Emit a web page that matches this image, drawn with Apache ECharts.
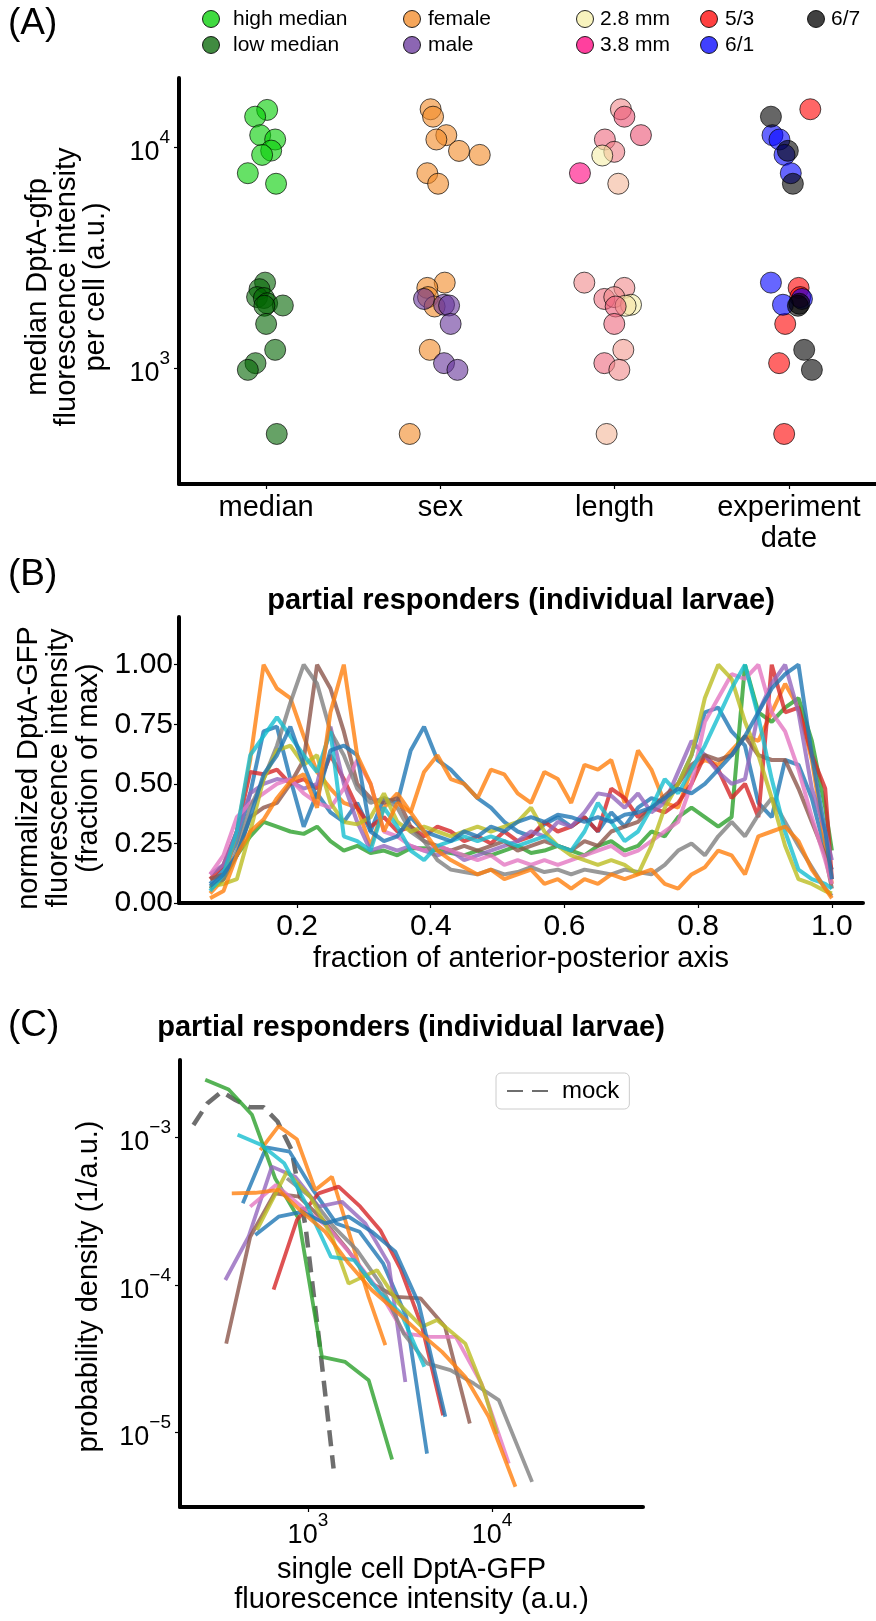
<!DOCTYPE html>
<html>
<head>
<meta charset="utf-8">
<title>DptA-GFP partial responders</title>
<script src="https://cdn.jsdelivr.net/npm/echarts@6.0.0/dist/echarts.min.js"></script>
<style>
html, body { margin: 0; padding: 0; background: #fff; }
#chart { width: 876px; height: 1621px; }
</style>
</head>
<body>
<div id="chart"></div>
<script>
// ---------- (A) median intensity per larva, grouped four ways ----------
var groupCats = ['median', 'sex', 'length', 'experiment\ndate'];

var medHighVals = [14700, 13700, 11300, 10800, 9620, 9200, 7600, 6810];
var medHighJit  = [0.006, -0.063, -0.034, 0.052, 0.029, -0.023, -0.105, 0.057];
var medLowVals  = [2430, 2270, 2090, 2070, 1960, 1915, 1910, 1580, 1206, 1050, 979, 502];
var medLowJit   = [-0.006, -0.038, -0.052, -0.013, 0.006, 0.096, -0.010, 0, 0.052, -0.061, -0.105, 0.061];

var femaleVals = [14800, 13700, 11300, 10800, 9590, 9200, 7600, 6810, 2430, 2300, 2090, 1895, 1206, 502];
var femaleJit  = [-0.056, -0.042, 0.034, -0.023, 0.107, 0.226, -0.075, -0.013, 0.025, -0.075, -0.071, -0.033, -0.061, -0.176];
var maleVals   = [2050, 1930, 1915, 1580, 1050, 979];
var maleJit    = [-0.094, 0.021, 0.050, 0.059, 0.021, 0.098];

var lenVals = [14800, 13700, 11300, 10800, 9500, 9140, 7600, 6810, 2430, 2300, 2050, 2090, 1930, 1910, 1895, 1580, 1206, 1050, 979, 502];
var lenJit  = [0.036, 0.056, 0.151, -0.056, -0.002, -0.071, -0.199, 0.021, -0.174, 0.056, -0.059, -0.002, 0.094, 0.063, 0.006, -0.002, 0.050, -0.059, 0.027, -0.046];
var lenMm   = [3.3, 3.55, 3.55, 3.45, 3.35, 2.8, 3.8, 3.05, 3.3, 3.3, 3.4, 3.3, 2.8, 2.85, 3.5, 3.45, 3.2, 3.45, 3.3, 3.05];

var d53Vals = [14800, 2300, 2090, 1580, 1050, 502];
var d53Jit  = [0.123, 0.056, 0.065, -0.021, -0.056, -0.027];
var d61Vals = [11300, 10800, 9200, 7600, 2430, 2050, 1930];
var d61Jit  = [-0.094, -0.054, -0.025, 0.011, -0.103, 0.075, -0.034];
var d67Vals = [13700, 9600, 6810, 1910, 1950, 1206, 979];
var d67Jit  = [-0.103, -0.006, 0.023, 0.052, 0.060, 0.088, 0.132];

// ---------- (B) AP profiles, one per larva ----------
var apX = [0.07,0.09,0.11,0.13,0.15,0.17,0.19,0.21,0.23,0.25,0.27,0.29,0.31,0.33,0.35,0.37,0.39,0.41,0.43,0.45,0.47,0.49,0.51,0.53,0.55,0.57,0.59,0.61,0.63,0.65,0.67,0.69,0.71,0.73,0.75,0.77,0.79,0.81,0.83,0.85,0.87,0.89,0.91,0.93,0.95,0.97,0.99,1.00];
var apBlue1  = [0.08,0.14,0.26,0.46,0.72,0.74,0.52,0.32,0.46,0.38,0.34,0.42,0.30,0.44,0.42,0.64,0.74,0.60,0.56,0.50,0.44,0.40,0.34,0.30,0.28,0.33,0.36,0.32,0.36,0.30,0.38,0.32,0.40,0.44,0.42,0.50,0.62,0.80,0.82,0.72,0.66,0.42,0.36,0.60,0.58,0.44,0.22,0.14];
var apOrange1 = [0.04,0.10,0.30,0.60,1.00,0.90,0.86,0.70,0.55,0.48,0.42,0.40,0.24,0.40,0.46,0.38,0.55,0.62,0.52,0.50,0.44,0.56,0.54,0.46,0.42,0.55,0.52,0.42,0.58,0.56,0.60,0.42,0.64,0.56,0.42,0.40,0.56,0.60,0.58,0.64,0.70,0.68,0.80,0.92,0.82,0.60,0.25,0.08];
var apGreen  = [0.06,0.10,0.20,0.28,0.34,0.32,0.30,0.29,0.32,0.26,0.22,0.24,0.21,0.22,0.20,0.23,0.23,0.22,0.21,0.20,0.22,0.20,0.22,0.24,0.21,0.22,0.24,0.22,0.20,0.24,0.26,0.22,0.24,0.30,0.28,0.36,0.40,0.36,0.32,0.36,1.00,0.80,0.76,0.82,0.86,0.68,0.40,0.22];
var apRed    = [0.10,0.16,0.30,0.55,0.54,0.56,0.50,0.52,0.48,0.62,0.52,0.40,0.32,0.36,0.30,0.32,0.28,0.32,0.30,0.26,0.28,0.25,0.30,0.26,0.28,0.34,0.30,0.32,0.36,0.30,0.48,0.44,0.36,0.40,0.38,0.42,0.50,0.62,0.56,0.44,0.50,0.36,1.00,0.80,0.82,0.62,0.48,0.10];
var apPurple = [0.12,0.16,0.30,0.46,0.50,0.52,0.51,0.48,0.50,0.74,0.50,0.34,0.22,0.24,0.22,0.24,0.22,0.20,0.22,0.18,0.20,0.22,0.24,0.26,0.30,0.28,0.34,0.32,0.38,0.46,0.45,0.40,0.46,0.38,0.42,0.55,0.68,0.62,0.55,0.50,0.52,0.80,0.92,1.00,0.80,0.48,0.30,0.18];
var apBrown  = [0.10,0.12,0.20,0.36,0.40,0.42,0.50,0.60,1.00,0.90,0.72,0.50,0.44,0.42,0.44,0.32,0.26,0.24,0.22,0.24,0.22,0.24,0.26,0.22,0.24,0.26,0.24,0.22,0.26,0.24,0.30,0.32,0.34,0.40,0.45,0.50,0.58,0.62,0.60,0.62,0.70,0.62,0.60,0.60,0.48,0.34,0.20,0.06];
var apPink   = [0.12,0.20,0.36,0.42,0.46,0.50,0.52,0.46,0.42,0.40,0.48,0.60,0.50,0.30,0.28,0.24,0.22,0.24,0.22,0.20,0.18,0.20,0.16,0.18,0.16,0.18,0.16,0.18,0.20,0.22,0.24,0.20,0.22,0.26,0.30,0.34,0.50,0.76,0.86,0.96,0.94,1.00,0.80,0.72,0.56,0.36,0.18,0.08];
var apGray   = [0.06,0.10,0.22,0.40,0.52,0.66,0.84,1.00,0.92,0.72,0.62,0.48,0.42,0.44,0.40,0.30,0.26,0.18,0.14,0.13,0.12,0.14,0.12,0.13,0.15,0.13,0.14,0.12,0.14,0.13,0.12,0.14,0.13,0.12,0.16,0.22,0.25,0.20,0.28,0.34,0.28,0.37,0.44,0.34,0.24,0.15,0.06,0.03];
var apOlive  = [0.07,0.08,0.10,0.30,0.52,0.64,0.66,0.58,0.62,0.42,0.34,0.33,0.36,0.46,0.34,0.30,0.32,0.30,0.28,0.30,0.32,0.30,0.32,0.34,0.40,0.30,0.24,0.20,0.18,0.16,0.18,0.16,0.12,0.24,0.40,0.50,0.62,0.86,1.00,0.94,0.76,0.62,0.44,0.24,0.10,0.08,0.05,0.04];
var apCyan   = [0.05,0.12,0.30,0.62,0.70,0.78,0.70,0.62,0.55,0.72,0.28,0.26,0.22,0.40,0.32,0.22,0.18,0.24,0.26,0.28,0.26,0.28,0.26,0.24,0.26,0.28,0.24,0.22,0.30,0.42,0.34,0.26,0.30,0.40,0.52,0.46,0.56,0.66,0.78,0.90,1.00,0.78,0.52,0.30,0.14,0.10,0.08,0.06];
var apBlue2  = [0.07,0.12,0.20,0.36,0.54,0.62,0.74,0.58,0.44,0.64,0.66,0.62,0.30,0.26,0.28,0.36,0.30,0.28,0.26,0.30,0.28,0.32,0.30,0.34,0.36,0.34,0.37,0.36,0.34,0.36,0.34,0.37,0.38,0.40,0.44,0.48,0.46,0.50,0.56,0.62,0.70,0.80,0.90,0.96,1.00,0.62,0.30,0.10];
var apOrange2 = [0.02,0.05,0.20,0.30,0.35,0.44,0.51,0.54,0.40,0.80,1.00,0.62,0.50,0.30,0.42,0.38,0.30,0.22,0.18,0.15,0.12,0.14,0.10,0.12,0.14,0.08,0.10,0.06,0.10,0.08,0.12,0.10,0.12,0.14,0.08,0.06,0.12,0.15,0.22,0.20,0.12,0.28,0.30,0.32,0.26,0.14,0.06,0.02];

// ---------- (C) single-cell intensity distributions ----------
var mockX = [239, 285, 340, 404, 482, 574, 684, 815, 971, 1157, 1378];
var mockY = [1.21e-3, 1.70e-3, 2.04e-3, 1.79e-3, 1.60e-3, 1.60e-3, 1.28e-3, 8.2e-4, 2.48e-4, 4.0e-5, 5.7e-6];
var cBlue1X = [443, 594, 795, 1065, 1426, 1910, 2558, 3423, 4433];
var cBlue1Y = [3.57e-4, 8.56e-4, 8.0e-4, 4.40e-4, 2.61e-4, 2.29e-4, 1.40e-4, 6.08e-5, 7.2e-6];
var cOrange1X = [551, 693, 871, 1096, 1350, 1698, 2136, 2633];
var cOrange1Y = [8.2e-4, 1.19e-3, 9.7e-4, 4.40e-4, 5.41e-4, 2.12e-4, 8.3e-5, 3.91e-5];
var cGreenX = [277, 371, 497, 664, 890, 1191, 1595, 2138, 2864];
var cGreenY = [2.45e-3, 2.11e-3, 1.42e-3, 5.27e-4, 2.82e-4, 3.26e-5, 3.01e-5, 2.26e-5, 6.56e-6];
var cRedX = [651, 871, 1143, 1468, 1925, 2471, 3177, 4166, 5420];
var cRedY = [9.3e-5, 2.75e-4, 4.17e-4, 4.63e-4, 3.39e-4, 2.35e-4, 1.29e-4, 5.2e-5, 1.31e-5];
var cPurpleX = [356, 476, 637, 853, 1143, 1530, 2050, 2744, 3381];
var cPurpleY = [1.08e-4, 2.12e-4, 6.33e-4, 5.41e-4, 3.39e-4, 3.66e-4, 2.61e-4, 1.40e-4, 2.20e-5];
var cBrownX = [360, 486, 659, 894, 1211, 1643, 2228, 3020, 4096, 5555, 7570];
var cBrownY = [4.0e-5, 2.12e-4, 4.17e-4, 3.96e-4, 2.75e-4, 1.73e-4, 1.02e-4, 8.3e-5, 8.1e-5, 5.2e-5, 1.15e-5];
var cPinkX = [486, 670, 924, 1274, 1757, 2422, 3341, 4607, 6353, 8750, 12330];
var cPinkY = [3.39e-4, 4.75e-4, 3.39e-4, 2.48e-4, 1.55e-4, 9.2e-5, 4.69e-5, 4.45e-5, 4.45e-5, 2.15e-5, 6.17e-6];
var cGrayX = [769, 1030, 1378, 1846, 2471, 3309, 4433, 5937, 7950, 10870, 16490];
var cGrayY = [5.27e-4, 3.96e-4, 2.48e-4, 1.72e-4, 1.02e-4, 4.69e-5, 2.94e-5, 2.65e-5, 2.15e-5, 1.66e-5, 4.63e-6];
var cOliveX = [528, 769, 1030, 1350, 1663, 2371, 3110, 4166, 5026, 7161, 9016, 10650];
var cOliveY = [2.35e-4, 5.85e-4, 3.96e-4, 2.12e-4, 1.02e-4, 1.26e-4, 7.5e-5, 5.2e-5, 5.78e-5, 4.0e-5, 1.94e-5, 9.8e-6];
var cCyanX = [415, 556, 743, 996, 1334, 1786, 2392, 3201, 4286];
var cCyanY = [1.04e-3, 8.9e-4, 6.67e-4, 3.39e-4, 1.55e-4, 1.47e-4, 9.2e-5, 6.4e-5, 2.79e-5];
var cBlue2X = [518, 693, 927, 1242, 1663, 2228, 2984, 3994, 5571];
var cBlue2Y = [2.18e-4, 2.90e-4, 3.13e-4, 2.61e-4, 2.90e-4, 2.29e-4, 1.68e-4, 7.5e-5, 1.28e-5];
var cOrange2X = [386, 518, 693, 927, 1242, 1663, 2228, 2984, 3994, 5349, 7161, 9591, 13390];
var cOrange2Y = [4.17e-4, 4.21e-4, 4.40e-4, 3.13e-4, 2.29e-4, 1.40e-4, 9.2e-5, 6.7e-5, 4.81e-5, 3.52e-5, 2.38e-5, 1.28e-5, 4.29e-6];

var tab = {
	blue: '#1f77b4', orange: '#ff7f0e', green: '#2ca02c', red: '#d62728', purple: '#9467bd',
	brown: '#8c564b', pink: '#e377c2', gray: '#7f7f7f', olive: '#bcbd22', cyan: '#17becf'
};
var FONT = 'Liberation Sans, Arial, Helvetica, sans-serif';

function jittered(cat, vals, jit) {
	return vals.map(function (v, i) { return [cat + jit[i], v]; });
}
function dots(data, color) {
	return {
		type: 'scatter', xAxisIndex: 0, yAxisIndex: 0,
		symbol: 'circle', symbolSize: 21, silent: true,
		itemStyle: { color: color, borderColor: 'rgba(0,0,0,0.85)', borderWidth: 1 },
		data: data
	};
}
function apLine(vals, color) {
	return {
		type: 'line', xAxisIndex: 1, yAxisIndex: 1, symbol: 'none', silent: true,
		lineStyle: { color: color, width: 4, opacity: 0.8 }, itemStyle: { color: color },
		data: apX.map(function (x, i) { return [x, vals[i]]; })
	};
}
function distLine(xs, ys, color) {
	return {
		type: 'line', xAxisIndex: 2, yAxisIndex: 2, symbol: 'none', silent: true,
		lineStyle: { color: color, width: 3.8, opacity: 0.8 }, itemStyle: { color: color },
		data: xs.map(function (x, i) { return [x, ys[i]]; })
	};
}
// 10^n style label for the log axes: a tall empty strut fixes the line box,
// the base sits at its bottom and the exponent at its top
function powLabel(v) {
	var e = Math.round(Math.log(v) / Math.LN10);
	return '{s|\u200b}{b|10}{e|' + (e < 0 ? '\u2212' + (-e) : e) + '}';
}
var powRich = {
	s: { fontSize: 10, lineHeight: 38, color: '#000' },
	b: { fontSize: 27, lineHeight: 27, verticalAlign: 'bottom', color: '#000', fontFamily: FONT },
	e: { fontSize: 19, lineHeight: 19, verticalAlign: 'top', color: '#000', fontFamily: FONT }
};
var blackLine = { show: true, onZero: false, lineStyle: { color: '#000', width: 4 } };
function ticks(vals) {
	return { show: true, length: 5, customValues: vals, lineStyle: { color: '#000', width: 1.2 } };
}

var chart = echarts.init(document.getElementById('chart'), null, { renderer: 'canvas' });

// legend of panel A (marker + label pairs, two rows)
var legendA = [
	['high median', 'rgba(0,205,0,0.75)', 211, 19, 22],
	['low median', 'rgba(0,100,0,0.75)', 211, 45, 22],
	['female', 'rgba(242,136,36,0.75)', 412, 19, 16],
	['male', 'rgba(102,51,153,0.75)', 412, 45, 16],
	['2.8 mm', 'rgba(245,239,168,0.75)', 585, 19, 15],
	['3.8 mm', 'rgba(255,0,125,0.75)', 585, 45, 15],
	['5/3', 'rgba(255,0,0,0.75)', 709, 19, 16],
	['6/1', 'rgba(0,0,255,0.75)', 709, 45, 16],
	['6/7', 'rgba(0,0,0,0.75)', 816, 19, 15]
];
var legendGraphics = [];
legendA.forEach(function (it) {
	legendGraphics.push({
		type: 'circle', shape: { cx: it[2], cy: it[3], r: 8.5 }, silent: true,
		style: { fill: it[1], stroke: 'rgba(0,0,0,0.85)', lineWidth: 1 }
	});
	legendGraphics.push({
		type: 'text', x: it[2] + it[4], y: it[3], silent: true,
		style: { text: it[0], fill: '#000', font: '21px ' + FONT, verticalAlign: 'middle' }
	});
});

var panelLabel = { fontSize: 37, fontWeight: 'normal', color: '#000' };
var titleStyle = { fontSize: 29, lineHeight: 32, fontWeight: 'bold', color: '#000' };

var option = {
	animation: false,
	backgroundColor: '#fff',
	textStyle: { fontFamily: FONT, color: '#000' },
	title: [
		{ text: '(A)', left: 8, top: 5, padding: 0, textStyle: panelLabel },
		{ text: '(B)', left: 8, top: 556, padding: 0, textStyle: panelLabel },
		{ text: '(C)', left: 8, top: 1007, padding: 0, textStyle: panelLabel },
		{ text: 'partial responders (individual larvae)', left: 521, top: 585, textAlign: 'center', padding: 0, textStyle: titleStyle },
		{ text: 'partial responders (individual larvae)', left: 411, top: 1012, textAlign: 'center', padding: 0, textStyle: titleStyle }
	],
	legend: {
		data: ['mock'], left: 496, top: 1073, selectedMode: false,
		itemWidth: 50, itemHeight: 14, padding: [6, 10, 6, 10],
		itemStyle: { opacity: 0 },
		borderColor: '#cccccc', borderWidth: 1, borderRadius: 5, backgroundColor: 'rgba(255,255,255,0.8)',
		textStyle: { fontSize: 24, color: '#000' }
	},
	grid: [
		{ left: 179, top: 78, width: 697, height: 406, containLabel: false, outerBoundsMode: 'none' },
		{ left: 179, top: 617, width: 684, height: 286, containLabel: false, outerBoundsMode: 'none' },
		{ left: 180, top: 1060, width: 463, height: 447, containLabel: false, outerBoundsMode: 'none' }
	],
	xAxis: [
		{
			type: 'value', gridIndex: 0, min: -0.5, max: 3.5,
			axisLine: blackLine, axisTick: ticks([0, 1, 2, 3]), splitLine: { show: false },
			axisLabel: {
				customValues: [0, 1, 2, 3], fontSize: 29, lineHeight: 31, margin: 8, color: '#000',
				formatter: function (v) { return groupCats[Math.round(v)]; }
			}
		},
		{
			type: 'value', gridIndex: 1, min: 0.0235, max: 1.0465,
			axisLine: blackLine, axisTick: ticks([0.2, 0.4, 0.6, 0.8, 1.0]), splitLine: { show: false },
			axisLabel: {
				customValues: [0.2, 0.4, 0.6, 0.8, 1.0], fontSize: 30, margin: 9, color: '#000',
				formatter: function (v) { return v.toFixed(1); }
			},
			name: 'fraction of anterior-posterior axis', nameLocation: 'middle', nameGap: 56,
			nameTextStyle: { fontSize: 29, color: '#000', verticalAlign: 'middle' }
		},
		{
			type: 'log', gridIndex: 2, min: 202, max: 66000,
			axisLine: blackLine, axisTick: ticks([1000, 10000]), splitLine: { show: false }, minorTick: { show: false },
			axisLabel: { customValues: [1000, 10000], formatter: powLabel, rich: powRich, margin: 4 },
			name: 'single cell DptA-GFP\nfluorescence intensity (a.u.)', nameLocation: 'middle', nameGap: 78,
			nameTextStyle: { fontSize: 29, lineHeight: 30, color: '#000', verticalAlign: 'middle' }
		}
	],
	yAxis: [
		{
			type: 'log', gridIndex: 0, min: 298, max: 20500,
			axisLine: blackLine, axisTick: ticks([1000, 10000]), splitLine: { show: false }, minorTick: { show: false },
			axisLabel: { customValues: [1000, 10000], formatter: powLabel, rich: powRich, margin: 9 },
			name: 'median DptA-gfp\nfluorescence intensity\nper cell (a.u.)', nameLocation: 'middle', nameGap: 112, nameRotate: 90,
			nameTextStyle: { fontSize: 29, lineHeight: 29, color: '#000', verticalAlign: 'middle', align: 'center', padding: [0, 12, 0, 0] }
		},
		{
			type: 'value', gridIndex: 1, min: 0, max: 1.2,
			axisLine: blackLine, axisTick: ticks([0, 0.25, 0.5, 0.75, 1.0]), splitLine: { show: false },
			axisLabel: {
				customValues: [0, 0.25, 0.5, 0.75, 1.0], fontSize: 30, margin: 6, color: '#000',
				formatter: function (v) { return v.toFixed(2); }
			},
			name: 'normalized DptA-GFP\nfluorescence intensity\n(fraction of max)', nameLocation: 'middle', nameGap: 119, nameRotate: 90,
			nameTextStyle: { fontSize: 29, lineHeight: 30, color: '#000', verticalAlign: 'middle', align: 'center', padding: [0, 16, 0, 0] }
		},
		{
			type: 'log', gridIndex: 2, min: 3.13e-6, max: 3.34e-3,
			axisLine: blackLine, axisTick: ticks([1e-5, 1e-4, 1e-3]), splitLine: { show: false }, minorTick: { show: false },
			axisLabel: { customValues: [1e-5, 1e-4, 1e-3], formatter: powLabel, rich: powRich, margin: 9 },
			name: 'probability density (1/a.u.)', nameLocation: 'middle', nameGap: 91, nameRotate: 90,
			nameTextStyle: { fontSize: 29, color: '#000', verticalAlign: 'middle', align: 'center', padding: [0, 6, 0, 0] }
		}
	],
	visualMap: [{
		type: 'continuous', show: false, seriesIndex: 4, dimension: 2, min: 2.8, max: 3.8,
		inRange: { color: ['rgba(245,239,168,0.75)', 'rgba(244,181,152,0.75)', 'rgba(240,136,139,0.75)', 'rgba(235,81,115,0.75)', 'rgba(255,0,125,0.75)'] }
	}],
	graphic: legendGraphics,
	series: [
		dots(jittered(0, medHighVals, medHighJit), 'rgba(0,205,0,0.75)'),
		dots(jittered(0, medLowVals, medLowJit), 'rgba(0,100,0,0.75)'),
		dots(jittered(1, femaleVals, femaleJit), 'rgba(242,136,36,0.75)'),
		dots(jittered(1, maleVals, maleJit), 'rgba(102,51,153,0.75)'),
		dots(lenVals.map(function (v, i) { return [2 + lenJit[i], v, lenMm[i]]; }), '#f0888b'),
		dots(jittered(3, d53Vals, d53Jit), 'rgba(255,0,0,0.75)'),
		dots(jittered(3, d61Vals, d61Jit), 'rgba(0,0,255,0.75)'),
		dots(jittered(3, d67Vals, d67Jit), 'rgba(0,0,0,0.75)'),

		apLine(apBlue1, tab.blue), apLine(apOrange1, tab.orange), apLine(apGreen, tab.green),
		apLine(apRed, tab.red), apLine(apPurple, tab.purple), apLine(apBrown, tab.brown),
		apLine(apPink, tab.pink), apLine(apGray, tab.gray), apLine(apOlive, tab.olive),
		apLine(apCyan, tab.cyan), apLine(apBlue2, tab.blue), apLine(apOrange2, tab.orange),

		{
			name: 'mock', type: 'line', xAxisIndex: 2, yAxisIndex: 2, symbol: 'none', silent: true,
			lineStyle: { color: '#555555', width: 4.5, type: [16, 9], opacity: 0.85 }, itemStyle: { color: '#555555' },
			data: mockX.map(function (x, i) { return [x, mockY[i]]; })
		},
		distLine(cBlue1X, cBlue1Y, tab.blue), distLine(cOrange1X, cOrange1Y, tab.orange),
		distLine(cGreenX, cGreenY, tab.green), distLine(cRedX, cRedY, tab.red),
		distLine(cPurpleX, cPurpleY, tab.purple), distLine(cBrownX, cBrownY, tab.brown),
		distLine(cPinkX, cPinkY, tab.pink), distLine(cGrayX, cGrayY, tab.gray),
		distLine(cOliveX, cOliveY, tab.olive), distLine(cCyanX, cCyanY, tab.cyan),
		distLine(cBlue2X, cBlue2Y, tab.blue), distLine(cOrange2X, cOrange2Y, tab.orange)
	]
};
chart.setOption(option);
</script>
</body>
</html>
